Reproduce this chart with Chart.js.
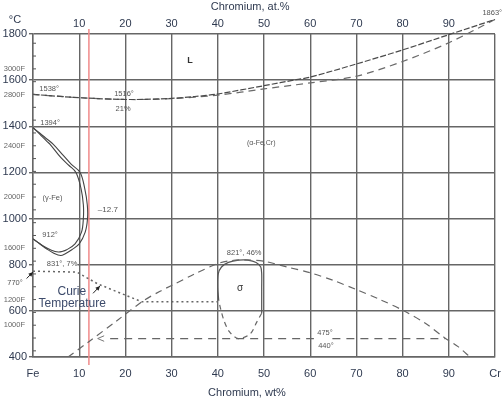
<!DOCTYPE html>
<html>
<head>
<meta charset="utf-8">
<script src="https://cdn.jsdelivr.net/npm/chart.js@4.4.1/dist/chart.umd.min.js"></script>
<style>
  html, body { margin: 0; padding: 0; background: #fff; }
  #wrap { width: 504px; height: 400px; }
</style>
</head>
<body>
<div id="wrap"><canvas id="chart" width="504" height="400"></canvas></div>
<script>
// liquidus and solidus (wt% Cr, degC)
const liquidusWt = [0, 10, 21, 30, 35, 40, 50, 57, 60, 70, 80, 90, 100];
const liquidusT  = [1538, 1524, 1516, 1521, 1529, 1540, 1576, 1602, 1613, 1670, 1731, 1797, 1863];
const solidusWt  = [0, 10, 21, 30, 40, 50, 57, 60, 70, 80, 90, 100];
const solidusT   = [1538, 1524, 1516, 1520, 1535, 1562, 1580, 1588, 1617, 1681, 1762, 1863];

// gamma loop, two boundaries
const gammaOuterWt = [0, 1.5, 3, 4.4, 6.5, 8.3, 10.2, 11.2, 11.75, 11.8, 11.3, 10, 8.4, 7, 6, 4.5, 3, 1.5, 0];
const gammaOuterT  = [1394, 1370, 1345, 1322, 1275, 1235, 1200, 1130, 1060, 1000, 941, 890, 865, 848, 840, 850, 868, 890, 912];
const gammaInnerWt = [0, 1.5, 3, 3.7, 6, 7.8, 9.3, 10.4, 10.9, 10.9, 10.5, 9.1, 7.3, 6.2, 5.5, 4, 2.5, 1, 0];
const gammaInnerT  = [1394, 1365, 1335, 1322, 1265, 1230, 1200, 1130, 1060, 1000, 941, 890, 865, 857, 855, 863, 878, 898, 912];

// alpha + alpha' / sigma dome
const domeWt = [7.6, 12, 18, 24, 27.5, 30, 35, 40, 43, 46, 50, 55, 60, 65, 70, 75, 80, 85, 89, 92, 94.6];
const domeT  = [400, 465, 555, 645, 685, 710, 760, 805, 818, 821, 815, 790, 765, 732, 692, 650, 603, 545, 485, 445, 400];

// sigma phase field
const sigmaSolidWt = [40.2, 40.0, 40.1, 40.8, 42.3, 44.5, 46.5, 48.3, 49.3, 49.5, 49.5, 49.5];
const sigmaSolidT  = [645, 700, 760, 790, 810, 820, 820, 810, 790, 760, 700, 590];
const sigmaDashWt  = [49.5, 48.4, 47, 44.4, 42.5, 41.3, 40.6, 40.2];
const sigmaDashT   = [590, 550, 500, 480, 510, 560, 610, 645];

// Curie temperature
const curieWt = [0, 9.5, 14, 23.5, 40];
const curieT  = [772, 768, 717, 640, 640];

// 475 / 440 line
const line480Wt = [16.7, 60.8, 61, 64.8, 89.2];
const line480T  = [480, 480, null, 480, 480];

// marker line
const markerWt = [12.1, 12.1];
const markerT  = [1822, 365];

// tick labels
const fahrenheitLabels = [3000, 2800, 2400, 2000, 1600, 1200, 1000];

const pts = (xs, ys) => xs.map((x, i) => ({ x: x, y: ys[i] }));

Chart.defaults.font.family = "'Liberation Sans', Arial, sans-serif";
const tickColor = '#2f3a50';
const gridColor = '#666';

function line(data, color, width, dash, tension) {
    return {
        data: data,
        showLine: true,
        borderColor: color,
        borderWidth: width,
        borderDash: dash,
        pointRadius: 0,
        tension: tension,
        fill: false
    };
}

function text(ctx, s, px, py, size, color, align, weight) {
    ctx.font = (weight || 'normal') + ' ' + size + "px 'Liberation Sans', Arial, sans-serif";
    ctx.fillStyle = color;
    ctx.textAlign = align || 'center';
    ctx.textBaseline = 'middle';
    ctx.fillText(s, px, py);
}

function arrow(ctx, x0, y0, x1, y1) {
    const ang = Math.atan2(y1 - y0, x1 - x0);
    ctx.strokeStyle = '#222';
    ctx.fillStyle = '#222';
    ctx.lineWidth = 1;
    ctx.setLineDash([]);
    ctx.beginPath();
    ctx.moveTo(x0, y0);
    ctx.lineTo(x1, y1);
    ctx.stroke();
    ctx.beginPath();
    ctx.moveTo(x1, y1);
    ctx.lineTo(x1 - 5 * Math.cos(ang - 0.45), y1 - 5 * Math.sin(ang - 0.45));
    ctx.lineTo(x1 - 5 * Math.cos(ang + 0.45), y1 - 5 * Math.sin(ang + 0.45));
    ctx.closePath();
    ctx.fill();
}

// grid line at 800 is broken behind the "831°, 7%" note
const gridGap = {
    id: 'gridGap',
    beforeDatasetsDraw(chart) {
        const ctx = chart.ctx;
        const a = chart.chartArea;
        const py = chart.scales.y.getPixelForValue(800);
        const px = chart.scales.x.getPixelForValue(9.6);
        ctx.save();
        ctx.fillStyle = '#fff';
        ctx.fillRect(a.left + 1, py - 1.5, px - a.left - 1, 3);
        ctx.restore();
    }
};

const annotations = {
    id: 'annotations',
    afterDatasetsDraw(chart) {
        const ctx = chart.ctx;
        const a = chart.chartArea;
        const x = chart.scales.x;
        const y = chart.scales.y;
        const X = v => x.getPixelForValue(v);
        const Y = v => y.getPixelForValue(v);
        ctx.save();

        // fahrenheit minor ticks and labels
        ctx.strokeStyle = '#555';
        ctx.lineWidth = 1;
        for (let f = 800; f <= 3200; f += 100) {
            const py = Y((f - 32) * 5 / 9);
            ctx.beginPath();
            ctx.moveTo(a.left, py);
            ctx.lineTo(a.left + 3, py);
            ctx.stroke();
        }
        fahrenheitLabels.forEach(f => {
            text(ctx, f + 'F', 25, Y((f - 32) * 5 / 9), 7.5, '#666', 'right');
        });
        text(ctx, '°C', 15, 20, 11, tickColor);

        // axis titles
        text(ctx, 'Chromium, at.%', X(47), 7, 11, tickColor);
        text(ctx, 'Chromium, wt%', X(46.3), 393, 11, tickColor);

        const small = '#555';
        text(ctx, 'L', X(34), Y(1683), 9, '#333', 'center', 'bold');
        text(ctx, '1538°', X(3.5), Y(1562), 7.5, small);
        text(ctx, '1516°', X(19.7), Y(1540), 7.5, small);
        text(ctx, '21%', X(19.5), Y(1475), 7.5, small);
        text(ctx, '1863°', X(99.4), Y(1892), 7.5, small);
        text(ctx, '1394°', X(3.7), Y(1414), 7.5, small);
        text(ctx, '(α-Fe,Cr)', X(49.4), Y(1326), 7, small);
        text(ctx, '(γ-Fe)', X(4.2), Y(1089), 7.5, small);
        text(ctx, '–12.7', X(16.2), Y(1037), 8, small);
        text(ctx, '912°', X(3.7), Y(929), 7.5, small);
        text(ctx, '831°, 7%', X(6.3), Y(803), 7.5, small);
        text(ctx, '770°', X(-3.9), Y(721), 7.5, small);
        text(ctx, 'Curie', X(8.4), Y(683), 12, '#3d4b6b');
        text(ctx, 'Temperature', X(8.5), Y(633), 12, '#3d4b6b');
        text(ctx, 'σ', X(44.8), Y(699), 10, '#333');
        text(ctx, '821°, 46%', X(45.7), Y(852), 7.5, small);
        text(ctx, '475°', X(63.2), Y(504), 7.5, small);
        text(ctx, '440°', X(63.4), Y(449), 7.5, small);

        // arrows
        arrow(ctx, X(-1.4), Y(740), X(0), Y(768));
        arrow(ctx, X(13), Y(676), X(14.5), Y(708));
        ctx.strokeStyle = '#777';
        ctx.lineWidth = 1;
        ctx.beginPath();
        ctx.moveTo(X(15.4), Y(492));
        ctx.lineTo(X(14), Y(480));
        ctx.lineTo(X(15.4), Y(468));
        ctx.stroke();
        ctx.restore();
    }
};

new Chart(document.getElementById('chart'), {
    type: 'scatter',
    data: {
        datasets: [
            Object.assign(line(pts(liquidusWt, liquidusT), '#4a4a4a', 1.2, [6, 2], 0.3), { clip: false }),
            Object.assign(line(pts(solidusWt, solidusT), '#6a6a6a', 1.2, [7, 5], 0.3), { clip: false }),
            line(pts(gammaOuterWt, gammaOuterT), '#444', 1.1, [], 0.35),
            line(pts(gammaInnerWt, gammaInnerT), '#444', 1.1, [], 0.35),
            line(pts(domeWt, domeT), '#666', 1.2, [7, 5], 0.3),
            line(pts(sigmaSolidWt, sigmaSolidT), '#555', 1.2, [], 0.3),
            line(pts(sigmaDashWt, sigmaDashT), '#666', 1.2, [5, 4], 0.3),
            line(pts(curieWt, curieT), '#666', 1.5, [2, 3], 0),
            line(pts(line480Wt, line480T), '#666', 1.2, [8, 6], 0),
            Object.assign(line(pts(markerWt, markerT), '#f08a8a', 1.5, [], 0), { clip: false })
        ]
    },
    options: {
        responsive: false,
        devicePixelRatio: 1,
        animation: false,
        layout: { padding: { left: 0, right: 9, top: 0, bottom: 0 } },
        plugins: {
            legend: { display: false },
            tooltip: { enabled: false }
        },
        scales: {
            x: {
                type: 'linear',
                position: 'bottom',
                min: 0,
                max: 100,
                afterFit: s => { s.height = 43; },
                ticks: {
                    stepSize: 10,
                    autoSkip: false,
                    maxRotation: 0,
                    padding: 0,
                    color: tickColor,
                    font: { size: 11 },
                    callback: v => v === 0 ? 'Fe' : (v === 100 ? 'Cr' : String(v))
                },
                grid: { color: gridColor, lineWidth: 1.4, drawTicks: true, tickLength: 10, tickColor: 'rgba(0,0,0,0)' },
                border: { color: gridColor, width: 1.4 }
            },
            x2: {
                type: 'linear',
                position: 'top',
                min: 0,
                max: 100,
                afterFit: s => { s.height = 34; },
                ticks: {
                    stepSize: 10,
                    autoSkip: false,
                    maxRotation: 0,
                    padding: 3,
                    color: tickColor,
                    font: { size: 11 },
                    callback: v => (v === 0 || v === 100) ? '' : String(v)
                },
                grid: { display: false, drawTicks: false },
                border: { display: false }
            },
            y: {
                min: 400,
                max: 1800,
                afterFit: s => { s.width = 33; },
                ticks: {
                    stepSize: 200,
                    padding: 2,
                    color: tickColor,
                    font: { size: 11 },
                    callback: v => String(v)
                },
                grid: { color: gridColor, lineWidth: 1.4, tickLength: 4 },
                border: { color: gridColor, width: 1.4 }
            }
        }
    },
    plugins: [gridGap, annotations]
});
</script>
</body>
</html>
